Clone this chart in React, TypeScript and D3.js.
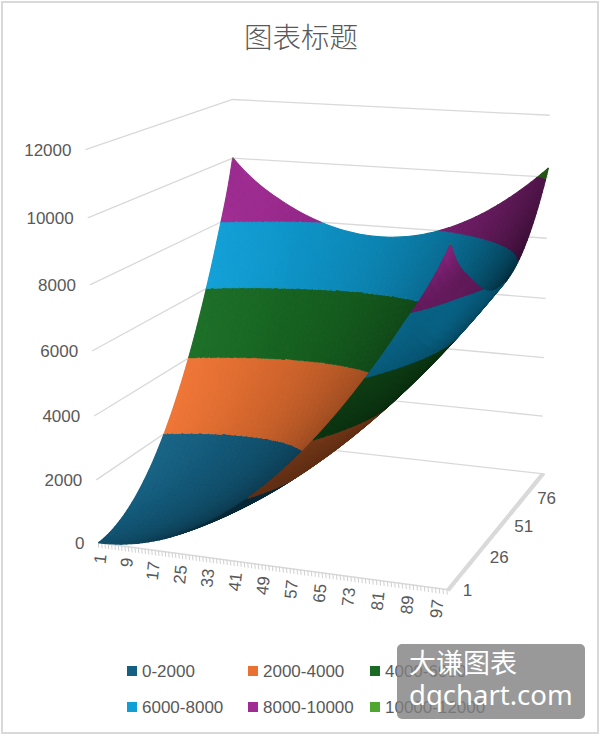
import React, { useMemo } from "react";
import * as d3 from "d3";

// ---------- data ----------
const title = "图表标题";
const seriesLabels = ["0-2000", "2000-4000", "4000-6000", "6000-8000", "8000-10000", "10000-12000"];
const bandLevels = [0, 2000, 4000, 6000, 8000, 10000, 12000];
const bandColors = ["#156082", "#E97132", "#196B24", "#0F9ED5", "#A02B93", "#4EA72E"];
const valueTicks = [0, 2000, 4000, 6000, 8000, 10000, 12000];
const xTickLabels = [1, 9, 17, 25, 33, 41, 49, 57, 65, 73, 81, 89, 97];
const depthTickLabels = [1, 26, 51, 76];
const xMax = 100;
const depthMax = 100;
// sampled positions along the two base axes
const gridKnots = [1, 9, 17, 25, 33, 41, 49, 57, 65, 73, 81, 89, 97, 100];
// surface heights: one row per depth position, one column per x position
const surfaceValues = [
  [1, 73, 273, 602, 1058, 1642, 2354, 3195, 4163, 5259, 6483, 7836, 9316, 10020],
  [73, 83, 222, 488, 882, 1404, 2054, 2832, 3739, 4773, 5935, 7225, 8643, 9208],
  [273, 222, 298, 502, 834, 1294, 1882, 2598, 3442, 4414, 5514, 6742, 8200, 8740],
  [602, 488, 502, 644, 914, 1312, 1838, 2492, 3274, 4184, 5222, 6388, 7780, 8300],
  [1058, 882, 834, 914, 1122, 1458, 1921, 2513, 3233, 4081, 5057, 6161, 7440, 7930],
  [1642, 1404, 1294, 1312, 1458, 1731, 2133, 2663, 3321, 4107, 5021, 6063, 7232, 7704],
  [2354, 2054, 1882, 1838, 1921, 2133, 2473, 2941, 3537, 4260, 5112, 6092, 7199, 7648],
  [3195, 2832, 2598, 2492, 2513, 2663, 2941, 3346, 3880, 4542, 5331, 6249, 7295, 7720],
  [4163, 3739, 3442, 3274, 3233, 3321, 3537, 3880, 4352, 4951, 5679, 6535, 7518, 7920],
  [5259, 4773, 4414, 4184, 4081, 4107, 4260, 4542, 4951, 5489, 6154, 6948, 7869, 8248],
  [6483, 5935, 5514, 5222, 5057, 5021, 5112, 5331, 5679, 6154, 6758, 7489, 8349, 8704],
  [7836, 7225, 6742, 6388, 6161, 6063, 6092, 6249, 6535, 6948, 7489, 8159, 8956, 9288],
  [9316, 8643, 8098, 7682, 7393, 7232, 7199, 7295, 7518, 7869, 8349, 8956, 9691, 10000],
  [10020, 9208, 8640, 8200, 7888, 7704, 7648, 7720, 7920, 8248, 8704, 9288, 10000, 10300],
];

// ---------- layout ----------
const W = 602;
const H = 736;
const FONT = "'Liberation Sans', Arial, sans-serif";
const TEXT = "#595959";
const GRID = "#D9D9D9";
const LABEL_SIZE = 17;

const uScale = d3.scaleLinear().domain([1, xMax]).range([0, 1]);
const vScale = d3.scaleLinear().domain([1, depthMax]).range([0, 1]);
const wScale = d3.scaleLinear().domain([0, 12000]).range([0, 1]);

// Camera fit: box corners (u, v, w) against their place on the page
const cameraFit: number[][] = [
  [0, 0, 0, 98, 543],
  [1, 0, 0, 445, 590],
  [1, 1, 0, 543, 473],
  [1, 1, 1, 550, 116],
  [0, 1, 1, 232, 100],
  [0, 0, 1, 85, 150],
  [0, 0, 1 / 6, 97, 480],
  [0, 0, 1 / 3, 95, 416],
  [1, 1, 0.5, 544, 299],
  [0, 1, 10000 / 12000, 232, 157],
  [1, 0, 10000 / 12000, 452, 243],
];

function solveCamera(): number[] {
  const n = 11;
  const A: number[][] = d3.range(n).map(() => new Array(n + 1).fill(0));
  const add = (row: number[], rhs: number) => {
    for (let i = 0; i < n; i++) {
      for (let j = 0; j < n; j++) A[i][j] += row[i] * row[j];
      A[i][n] += row[i] * rhs;
    }
  };
  for (const [u, v, w, X, Y] of cameraFit) {
    add([1, u, v, w, 0, 0, 0, 0, -X * u, -X * v, -X * w], X);
    add([0, 0, 0, 0, 1, u, v, w, -Y * u, -Y * v, -Y * w], Y);
  }
  for (let i = 0; i < n; i++) {
    let p = i;
    for (let r = i + 1; r < n; r++) if (Math.abs(A[r][i]) > Math.abs(A[p][i])) p = r;
    [A[i], A[p]] = [A[p], A[i]];
    for (let r = 0; r < n; r++) {
      if (r === i) continue;
      const f = A[r][i] / A[i][i];
      for (let c = i; c <= n; c++) A[r][c] -= f * A[i][c];
    }
  }
  return d3.range(n).map((i) => A[i][n] / A[i][i]);
}
const cam = solveCamera();
const depthOf = (u: number, v: number, w: number) => 1 + cam[8] * u + cam[9] * v + cam[10] * w;
const project = (u: number, v: number, w: number): [number, number] => {
  const d = depthOf(u, v, w);
  return [
    (cam[0] + cam[1] * u + cam[2] * v + cam[3] * w) / d,
    (cam[4] + cam[5] * u + cam[6] * v + cam[7] * w) / d,
  ];
};

// local cubic evaluation between the sampled knots, only to draw a smooth sheet
function localCubic(knots: number[], vals: number[], t: number): number {
  let i = d3.bisectRight(knots, t) - 2;
  i = Math.max(0, Math.min(knots.length - 4, i));
  let s = 0;
  for (let a = i; a < i + 4; a++) {
    let l = 1;
    for (let b = i; b < i + 4; b++) if (a !== b) l *= (t - knots[b]) / (knots[a] - knots[b]);
    s += l * vals[a];
  }
  return s;
}

type Vtx = { x: number; y: number; z: number };

function clipBand(tri: Vtx[], lo: number, hi: number): Vtx[] {
  const clip = (poly: Vtx[], limit: number, keepAbove: boolean) => {
    const out: Vtx[] = [];
    for (let i = 0; i < poly.length; i++) {
      const a = poly[i];
      const b = poly[(i + 1) % poly.length];
      const ina = keepAbove ? a.z >= limit : a.z <= limit;
      const inb = keepAbove ? b.z >= limit : b.z <= limit;
      if (ina) out.push(a);
      if (ina !== inb) {
        const t = (limit - a.z) / (b.z - a.z);
        out.push({ x: a.x + t * (b.x - a.x), y: a.y + t * (b.y - a.y), z: limit });
      }
    }
    return out;
  };
  const p = clip(tri, lo, true);
  return p.length ? clip(p, hi, false) : p;
}

function shadeColor(base: string, b: number): string {
  const c = d3.rgb(base);
  const k = Math.min(b, 1);
  const lift = Math.max(0, b - 0.92) * 70;
  return d3
    .rgb(
      Math.min(255, c.r * k + lift),
      Math.min(255, c.g * k + lift),
      Math.min(255, c.b * k + lift)
    )
    .formatHex();
}

function buildSurface() {
  const N = 60;
  const coord = d3.scaleLinear().domain([0, N]).range([1, xMax]);
  const samples = d3.range(N + 1).map((i) => coord(i));
  // first along x on every depth row, then along depth
  const rowsFine = surfaceValues.map((row) => samples.map((x) => localCubic(gridKnots, row, x)));
  const z: number[][] = samples.map((_, ix) => {
    const col = rowsFine.map((r) => r[ix]);
    return samples.map((y) => localCubic(gridKnots, col, y));
  }); // z[ix][iy]
  const pts = samples.map((x, ix) =>
    samples.map((y, iy) => {
      const u = uScale(x);
      const v = vScale(y);
      const w = wScale(z[ix][iy]);
      const [px, py] = project(u, v, w);
      return { x: px, y: py, z: z[ix][iy], u, v, w };
    })
  );
  const L = [0.7, -0.3, 0.6];
  const polys: { d: string; seams: string; rim: string; fill: string; depth: number }[] = [];
  const line = d3.line<Vtx>().x((p) => p.x).y((p) => p.y).curve(d3.curveLinearClosed);
  const side = (a: any, b: any, c: any) =>
    (b.x - a.x) * (c.y - a.y) - (b.y - a.y) * (c.x - a.x);

  for (let i = 0; i < N; i++) {
    for (let j = 0; j < N; j++) {
      const a = pts[i][j];
      const b = pts[i + 1][j];
      const c = pts[i + 1][j + 1];
      const e = pts[i][j + 1];
      // one shade for the whole cell, from its two diagonals
      const d1 = [c.u - a.u, c.v - a.v, c.w - a.w];
      const d2 = [e.u - b.u, e.v - b.v, e.w - b.w];
      const n = [
        d1[1] * d2[2] - d1[2] * d2[1],
        d1[2] * d2[0] - d1[0] * d2[2],
        d1[0] * d2[1] - d1[1] * d2[0],
      ];
      const len = Math.hypot(n[0], n[1], n[2]) * (n[2] < 0 ? -1 : 1);
      const dot = (n[0] * L[0] + n[1] * L[1] + n[2] * L[2]) / len;
      // the sheet is seen from below where the cell is flipped on the page
      const underside = side(a, b, c) + side(a, c, e) > 0;
      const bright = underside
        ? 0.42 + 2 * dot * dot
        : Math.max(0.25, 0.38 + 0.75 * dot);
      const depthTri = (p: any, q: any, r: any) =>
        (depthOf(p.u, p.v, p.w) + depthOf(q.u, q.v, q.w) + depthOf(r.u, r.v, r.w)) / 3;
      for (const tri of [[a, b, c], [a, c, e]]) {
        const depth = depthTri(tri[0], tri[1], tri[2]);
        bandColors.forEach((col, k) => {
          const lo = bandLevels[k];
          const hi = bandLevels[k + 1];
          const poly = clipBand(tri, lo, hi);
          if (poly.length >= 3) {
            // edges on a band limit get a hairline, all others close the seams between cells
            const seams = d3.path();
            const rim = d3.path();
            poly.forEach((p, m) => {
              const q = poly[(m + 1) % poly.length];
              const onLimit = (p.z === lo && q.z === lo) || (p.z === hi && q.z === hi);
              const target = onLimit ? rim : seams;
              target.moveTo(p.x, p.y);
              target.lineTo(q.x, q.y);
            });
            polys.push({
              d: line(poly) as string,
              seams: seams.toString(),
              rim: rim.toString(),
              fill: shadeColor(col, bright),
              depth,
            });
          }
        });
      }
    }
  }
  polys.sort((p, q) => q.depth - p.depth);
  return polys;
}

const segment = (a: [number, number], b: [number, number]) =>
  d3.line()([a, b]) as string;

export default function App() {
  const polys = useMemo(buildSurface, []);
  const xTicks = d3.range(1, xMax + 1);
  const depthTicks = d3.range(1, depthMax + 1);
  const legendX = [127, 248, 370];
  const legendY = [671, 707];

  return (
    <svg
      width={W}
      height={H}
      viewBox={`0 0 ${W} ${H}`}
      style={{ position: "absolute", left: 0, top: 0, background: "#fff" }}
    >
      <rect x={2} y={2} width={596} height={731} fill="#fff" stroke="#D9D9D9" strokeWidth={2} />
      <text
        x={301}
        y={48}
        textAnchor="middle"
        fontSize={28.5}
        fill={TEXT}
        fontFamily="'Noto Sans CJK SC', sans-serif"
        fontWeight={300}
      >
        {title}
      </text>

      {/* walls */}
      {valueTicks.map((t) => {
        const w = wScale(t);
        return (
          <g key={t} fill="none" stroke={GRID} strokeWidth={1.3}>
            <path d={segment(project(0, 0, w), project(0, 1, w))} />
            <path d={segment(project(0, 1, w), project(1, 1, w))} />
          </g>
        );
      })}
      {/* base edges with their tick marks */}
      <path d={segment(project(0, 0, 0), project(1, 0, 0))} stroke={GRID} strokeWidth={1.5} />
      <path d={segment(project(1, 0, 0), project(1, 1, 0))} stroke={GRID} strokeWidth={1.5} />
      {xTicks.map((t) => {
        const [x, y] = project(uScale(t), 0, 0);
        return <path key={t} d={segment([x, y], [x + 0.4, y + 5])} stroke="#D0D0D0" strokeWidth={1} />;
      })}
      {depthTicks.map((t) => {
        const [x, y] = project(1, vScale(t), 0);
        return <path key={t} d={segment([x, y], [x + 3.5, y + 1])} stroke={GRID} strokeWidth={2} />;
      })}

      {/* surface */}
      <g>
        {polys.map((p, i) => (
          <g key={i} stroke={p.fill}>
            <path d={p.d} fill={p.fill} stroke="none" />
            {p.seams ? <path d={p.seams} fill="none" strokeWidth={1.1} /> : null}
            {p.rim ? <path d={p.rim} fill="none" strokeWidth={0.5} /> : null}
          </g>
        ))}
      </g>

      {/* value labels */}
      {valueTicks.map((t) => {
        const [x, y] = project(0, 0, wScale(t));
        return (
          <text key={t} x={x - 14} y={y + 6} textAnchor="end" fontSize={LABEL_SIZE} fill={TEXT} fontFamily={FONT}>
            {t}
          </text>
        );
      })}
      {xTickLabels.map((t) => {
        const [x, y] = project(uScale(t), 0, 0);
        return (
          <text
            key={t}
            transform={`translate(${x + 8},${y + 12}) rotate(-84)`}
            textAnchor="end"
            fontSize={LABEL_SIZE}
            fill={TEXT}
            fontFamily={FONT}
          >
            {t}
          </text>
        );
      })}
      {depthTickLabels.map((t) => {
        const [x, y] = project(1, vScale(t), 0);
        return (
          <text key={t} x={x + 16} y={y + 6} fontSize={LABEL_SIZE} fill={TEXT} fontFamily={FONT}>
            {t}
          </text>
        );
      })}

      {/* legend */}
      {seriesLabels.map((s, i) => {
        const col = i % 3;
        const row = Math.floor(i / 3);
        return (
          <g key={s}>
            <rect x={legendX[col]} y={legendY[row] - 5} width={10} height={10} fill={bandColors[i]} />
            <text x={legendX[col] + 15} y={legendY[row] + 6} fontSize={LABEL_SIZE} fill={TEXT} fontFamily={FONT}>
              {s}
            </text>
          </g>
        );
      })}

      {/* stamp */}
      <rect x={397} y={644} width={188} height={75} rx={5} fill="#808080" fillOpacity={0.8} />
      <text x={409} y={673} fontSize={27} fill="#fff" fontFamily="'Noto Sans CJK SC', sans-serif">
        大谦图表
      </text>
      <text x={409} y={705} fontSize={27.5} fill="#fff" fontFamily="'Noto Sans', sans-serif">
        dqchart.com
      </text>
    </svg>
  );
}
